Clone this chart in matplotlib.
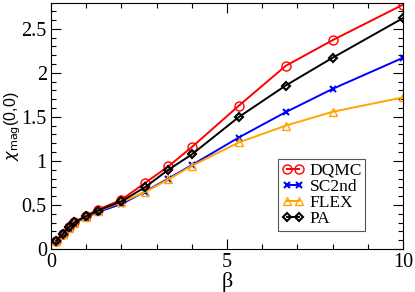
import matplotlib
matplotlib.use("Agg")
import matplotlib.pyplot as plt
from matplotlib.ticker import MultipleLocator, FuncFormatter

beta = [0.15, 1/3, 0.5, 2/3, 1.0, 4/3, 2.0, 8/3, 10/3, 4.0, 16/3, 20/3, 8.0, 10.0]
dqmc = [0.094, 0.17, 0.249, 0.306, 0.378, 0.446, 0.559, 0.748, 0.937, 1.156, 1.625, 2.078, 2.37, 2.773]
sc2nd = [0.09, 0.165, 0.24, 0.295, 0.36, 0.42, 0.51, 0.65, 0.80, 0.952, 1.265, 1.553, 1.817, 2.17]
flex = [0.09, 0.165, 0.24, 0.30, 0.365, 0.43, 0.53, 0.646, 0.79, 0.944, 1.209, 1.40, 1.557, 1.72]
pa = [0.092, 0.168, 0.245, 0.302, 0.372, 0.436, 0.54, 0.70, 0.899, 1.073, 1.497, 1.855, 2.17, 2.62]

plt.rcParams['font.family'] = ['Liberation Serif', 'DejaVu Serif']

fig = plt.figure(figsize=(4.15, 2.92), dpi=100)
ax = fig.add_axes([51/415, 1 - 249/292, (403 - 51)/415, (249 - 2.7)/292])

ax.plot(beta, dqmc, color='red', lw=1.4, marker='o', ms=6.5, mfc='none', mec='red', mew=1.0, label='DQMC')
ax.plot(beta, sc2nd, color='blue', lw=1.4, marker='x', ms=5, mec='blue', mew=1.5, label='SC2nd')
ax.plot(beta, flex, color='orange', lw=1.4, marker='^', ms=6, mfc='none', mec='orange', mew=1.0, label='FLEX')
ax.plot(beta, pa, color='black', lw=1.4, marker='D', ms=4.5, mfc='none', mec='black', mew=1.5, label='PA')

ax.set_xlim(0, 10)
ax.set_ylim(0, 2.795)
ax.xaxis.set_major_locator(MultipleLocator(5))
ax.xaxis.set_minor_locator(MultipleLocator(1))
ax.yaxis.set_major_locator(MultipleLocator(0.5))
ax.yaxis.set_minor_locator(MultipleLocator(0.1))
ax.tick_params(which='both', direction='in', top=True, right=True, labelsize=14.5, pad=3)
ax.tick_params(which='major', length=7, width=0.8)
ax.tick_params(which='minor', length=3.5, width=0.8)
ax.yaxis.set_major_formatter(FuncFormatter(lambda v, p: ('%g' % v)))
ax.xaxis.set_major_formatter(FuncFormatter(lambda v, p: ('%g' % v)))

ax.set_xlabel('β', fontsize=16, labelpad=0)
ax.set_ylabel(r'$\chi_{\rm mag}$(0,0)', fontsize=11.5, family=['Liberation Sans', 'DejaVu Sans'])
ax.yaxis.set_label_coords(-0.08, 0.5)

leg = ax.legend(loc='lower right', bbox_to_anchor=(0.893, 0.075), fontsize=12.5, numpoints=2,
                handlelength=1.3, handletextpad=0.3, labelspacing=0.0, borderpad=0.2,
                fancybox=False, edgecolor='#555555', framealpha=1, borderaxespad=0)
leg.get_frame().set_linewidth(0.8)

fig.savefig('out.png', dpi=100)
